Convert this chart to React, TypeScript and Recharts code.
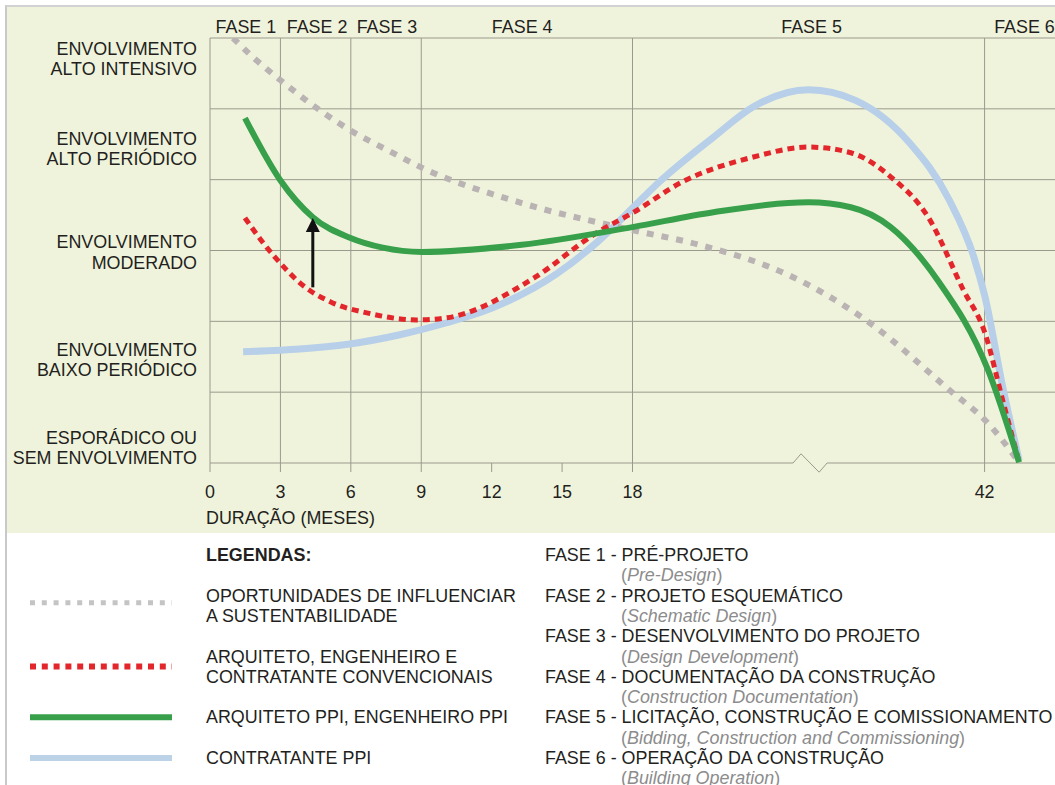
import React from "react";
import { LineChart, Line, XAxis, YAxis, ReferenceLine } from "recharts";

const FONT = '"Liberation Sans", Arial, Helvetica, sans-serif';
const INK = "#231f20";
const GRID = "#9a9a8c";

// eixo horizontal quebrado: 0–18 meses em escala real, depois comprimido até 42
const monthTicks = [0, 3, 6, 9, 12, 15, 18, 33];
const monthLabels = ["0", "3", "6", "9", "12", "15", "18", "42"];
const gridMonths = [3, 6, 9, 18, 33];
const phaseTicks = [1.53, 4.56, 7.54, 13.3, 25.63, 34.7];
const phaseLabels = ["FASE 1", "FASE 2", "FASE 3", "FASE 4", "FASE 5", "FASE 6"];
const gridLevels = [1, 2, 3, 4, 5, 6];
const levelTicks = [0.22, 1.46, 2.98, 4.44, 5.71];
const levelLabels = [
  ["ESPORÁDICO OU", "SEM ENVOLVIMENTO"],
  ["ENVOLVIMENTO", "BAIXO PERIÓDICO"],
  ["ENVOLVIMENTO", "MODERADO"],
  ["ENVOLVIMENTO", "ALTO PERIÓDICO"],
  ["ENVOLVIMENTO", "ALTO INTENSIVO"],
];
const breakX = [24.84, 25.18, 25.95, 26.29];
const breakY = [0, 0.13, -0.13, 0];
const arrowX = 4.38;
const arrowFrom = 2.48;
const arrowTo = 3.46;

// [duração (eixo), nível de envolvimento]
const opportunity = [
  [0.98, 6.0], [1.83, 5.73], [2.98, 5.41], [4.68, 4.98], [5.96, 4.7], [7.66, 4.4],
  [9.02, 4.17], [13.28, 3.67], [17.96, 3.29], [20.85, 3.08], [24.8, 2.63],
  [28.1, 1.98], [31.5, 1.03], [33.15, 0.56], [34.47, 0.01],
];
const conventional = [
  [1.49, 3.46], [2.26, 3.11], [3.28, 2.72], [3.7, 2.58], [5.23, 2.26], [6.68, 2.12],
  [8.81, 2.02], [10.09, 2.05], [13.79, 2.61], [16.47, 3.25], [18.0, 3.53],
  [20.13, 3.97], [23.15, 4.32], [25.5, 4.46], [27.3, 4.38], [29.0, 4.04],
  [30.6, 3.47], [32.1, 2.44], [33.0, 1.85], [33.8, 0.85], [34.47, 0.01],
];
const ppiTeam = [
  [1.49, 4.87], [2.98, 4.0], [4.38, 3.47], [5.96, 3.18], [7.36, 3.04], [9.02, 2.98],
  [13.28, 3.08], [18.0, 3.33], [21.45, 3.54], [25.5, 3.68], [27.3, 3.61],
  [29.0, 3.33], [31.0, 2.58], [33.15, 1.31], [34.47, 0.01],
];
const ppiOwner = [
  [1.41, 1.57], [3.83, 1.61], [5.96, 1.68], [8.09, 1.81], [10.09, 1.98],
  [11.96, 2.18], [14.81, 2.68], [16.5, 3.12], [18.0, 3.6], [19.15, 3.97],
  [21.45, 4.6], [23.15, 5.03], [25.5, 5.27], [27.5, 5.12], [29.8, 4.52],
  [31.5, 3.71], [32.55, 2.9], [33.0, 2.37], [33.8, 1.03], [34.47, 0.04],
];

const series = [
  { key: "owner", pts: ppiOwner, color: "#b7cfe8", width: 7, dash: undefined, swatch: "#bcd2e6", swatchDash: undefined, swatchW: 6, row: 10 },
  { key: "opp", pts: opportunity, color: "#bab3b3", width: 6, dash: "7 8", swatch: "#c4c4c4", swatchDash: "5 6.8", swatchW: 5, row: 2.35 },
  { key: "conv", pts: conventional, color: "#e3262b", width: 5, dash: "7 5", swatch: "#e3262b", swatchDash: "6 5.8", swatchW: 6, row: 5.5 },
  { key: "team", pts: ppiTeam, color: "#38a04a", width: 6, dash: undefined, swatch: "#38a04a", swatchDash: undefined, swatchW: 6, row: 8 },
];

const legendLeft = [
  { row: 0, text: "LEGENDAS:", bold: true },
  { row: 2, text: "OPORTUNIDADES DE INFLUENCIAR" },
  { row: 3, text: "A SUSTENTABILIDADE" },
  { row: 5, text: "ARQUITETO, ENGENHEIRO E" },
  { row: 6, text: "CONTRATANTE CONVENCIONAIS" },
  { row: 8, text: "ARQUITETO PPI, ENGENHEIRO PPI" },
  { row: 10, text: "CONTRATANTE PPI" },
];
const phaseNames = [
  "PRÉ-PROJETO",
  "PROJETO ESQUEMÁTICO",
  "DESENVOLVIMENTO DO PROJETO",
  "DOCUMENTAÇÃO DA CONSTRUÇÃO",
  "LICITAÇÃO, CONSTRUÇÃO E COMISSIONAMENTO",
  "OPERAÇÃO DA CONSTRUÇÃO",
];
const phaseEnglish = [
  "Pre-Design",
  "Schematic Design",
  "Design Development",
  "Construction Documentation",
  "Bidding, Construction and Commissioning",
  "Building Operation",
];

const FS = 17.9;
const ROW = 20.3;
const LEGEND_TOP = 545;

const toPoints = (pts: number[][]) => pts.map(([x, y]) => ({ x, y }));

function LevelTick(props: any) {
  const { x, y, payload } = props;
  const lines = levelLabels[levelTicks.indexOf(payload.value)] || [];
  return (
    <g>
      {lines.map((t, i) => (
        <text key={i} x={x} y={y + (i === 0 ? -10.25 : 10.25) + 6.4} textAnchor="end" fontSize={FS} fontFamily={FONT} fill={INK}>
          {t}
        </text>
      ))}
    </g>
  );
}

function MonthTick(props: any) {
  const { x, y, payload } = props;
  return (
    <text x={x} y={y + 26.3} textAnchor="middle" fontSize={FS} fontFamily={FONT} fill={INK}>
      {monthLabels[monthTicks.indexOf(payload.value)]}
    </text>
  );
}

function PhaseTick(props: any) {
  const { x, y, payload } = props;
  return (
    <text x={x} y={y - 4.7} textAnchor="middle" fontSize={FS} fontFamily={FONT} fill={INK}>
      {phaseLabels[phaseTicks.indexOf(payload.value)]}
    </text>
  );
}

function Arrow(p: any) {
  const { x1, y1, y2 } = p;
  const top = Math.min(y1, y2);
  const bottom = Math.max(y1, y2);
  return (
    <g>
      <line x1={x1} y1={bottom} x2={x1} y2={top + 12} stroke="#111" strokeWidth={3} />
      <polygon points={`${x1},${top} ${x1 - 7},${top + 14} ${x1 + 7},${top + 14}`} fill="#111" />
    </g>
  );
}

export default function App() {
  return (
    <div style={{ position: "absolute", left: 0, top: 0, width: 1055, height: 785, background: "#fff", overflow: "hidden", fontFamily: FONT, color: INK }}>
      <div style={{ position: "absolute", left: 5, top: 5, width: 1050, height: 780, borderLeft: "2px solid #c9c9c9", borderTop: "2px solid #d2d2d2" }} />
      <div style={{ position: "absolute", left: 7, top: 7, width: 1048, height: 526, background: "#f0f3dc" }} />

      <div style={{ position: "absolute", left: 0, top: 0 }}>
        <LineChart width={1055} height={540} margin={{ top: 0, right: 0, bottom: 0, left: 0 }}>
          <XAxis
            dataKey="x"
            type="number"
            domain={[0, 36]}
            allowDataOverflow
            ticks={monthTicks}
            interval={0}
            height={77}
            axisLine={false}
            tickLine={{ stroke: GRID }}
            tickSize={9}
            tickMargin={0}
            tick={(p: any) => <MonthTick {...p} />}
          />
          <XAxis
            xAxisId="phase"
            dataKey="x"
            orientation="top"
            type="number"
            domain={[0, 36]}
            allowDataOverflow
            ticks={phaseTicks}
            interval={0}
            height={38}
            axisLine={false}
            tickLine={false}
            tickSize={0}
            tickMargin={0}
            tick={(p: any) => <PhaseTick {...p} />}
          />
          <YAxis
            type="number"
            domain={[0, 6]}
            allowDataOverflow
            ticks={levelTicks}
            interval={0}
            width={210}
            axisLine={{ stroke: GRID }}
            tickLine={false}
            tickSize={0}
            tickMargin={13}
            tick={(p: any) => <LevelTick {...p} />}
          />

          {gridLevels.map((v) => (
            <ReferenceLine key={`h${v}`} y={v} stroke={GRID} strokeWidth={1} />
          ))}
          {gridMonths.map((m) => (
            <ReferenceLine key={`v${m}`} x={m} stroke={GRID} strokeWidth={1} />
          ))}
          <ReferenceLine segment={[{ x: 0, y: 0 }, { x: breakX[0], y: breakY[0] }]} stroke={GRID} ifOverflow="visible" />
          {breakX.slice(0, -1).map((bx, i) => (
            <ReferenceLine
              key={`z${i}`}
              segment={[{ x: bx, y: breakY[i] }, { x: breakX[i + 1], y: breakY[i + 1] }]}
              stroke={GRID}
              ifOverflow="visible"
            />
          ))}
          <ReferenceLine segment={[{ x: breakX[3], y: 0 }, { x: 36, y: 0 }]} stroke={GRID} ifOverflow="visible" />

          {/* série invisível só para ancorar o eixo de fases no topo */}
          <Line
            xAxisId="phase"
            data={phaseTicks.map((x) => ({ x, y: 6 }))}
            dataKey="y"
            stroke="none"
            strokeWidth={0}
            dot={false}
            activeDot={false}
            isAnimationActive={false}
          />

          {series.map((s) => (
            <Line
              key={s.key}
              data={toPoints(s.pts)}
              dataKey="y"
              type="monotone"
              stroke={s.color}
              strokeWidth={s.width}
              strokeDasharray={s.dash}
              strokeLinecap="butt"
              dot={false}
              activeDot={false}
              isAnimationActive={false}
            />
          ))}

          <ReferenceLine
            segment={[{ x: arrowX, y: arrowFrom }, { x: arrowX, y: arrowTo }]}
            ifOverflow="visible"
            shape={(p: any) => <Arrow {...p} />}
          />
        </LineChart>
      </div>

      <div style={{ position: "absolute", left: 206, top: 508, fontSize: FS, lineHeight: "20px", whiteSpace: "nowrap" }}>
        DURAÇÃO (MESES)
      </div>

      <svg style={{ position: "absolute", left: 0, top: 0 }} width={200} height={785}>
        {series.map((s) => {
          const cy = LEGEND_TOP + 9.95 + s.row * ROW;
          return (
            <line key={s.key} x1={30} x2={172} y1={cy} y2={cy} stroke={s.swatch} strokeWidth={s.swatchW} strokeDasharray={s.swatchDash} />
          );
        })}
      </svg>

      {legendLeft.map((r, i) => (
        <div
          key={i}
          style={{ position: "absolute", left: 206, top: LEGEND_TOP + r.row * ROW, fontSize: FS, lineHeight: `${ROW}px`, fontWeight: r.bold ? 700 : 400, whiteSpace: "nowrap" }}
        >
          {r.text}
        </div>
      ))}

      {phaseNames.map((n, i) => (
        <React.Fragment key={i}>
          <div style={{ position: "absolute", left: 545, top: LEGEND_TOP + i * 2 * ROW, fontSize: FS, lineHeight: `${ROW}px`, whiteSpace: "nowrap" }}>
            {`${phaseLabels[i]} - ${n}`}
          </div>
          <div style={{ position: "absolute", left: 621, top: LEGEND_TOP + (i * 2 + 1) * ROW, fontSize: FS, lineHeight: `${ROW}px`, whiteSpace: "nowrap", color: "#8c8c8c" }}>
            (<i>{phaseEnglish[i]}</i>)
          </div>
        </React.Fragment>
      ))}
    </div>
  );
}
